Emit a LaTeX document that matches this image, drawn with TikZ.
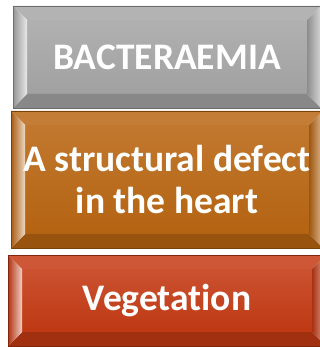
\documentclass[tikz,border=0pt]{standalone}
\usepackage{fontspec}
\setmainfont{Carlito}[Ligatures=NoCommon]
\usetikzlibrary{calc}

\definecolor{graybox}{HTML}{A6A6A6}
\definecolor{orangebox}{HTML}{B96612}
\definecolor{redbox}{HTML}{C43A14}

\tikzset{
  boxtext/.style={text=white,font=\bfseries\fontsize{37.5}{42}\selectfont,align=center,inner sep=0pt}
}

% bevelled box: name, north west corner, south east corner, colour
\newcommand{\bevelbox}[4]{%
  \coordinate (#1-a) at #2;
  \coordinate (#1-c) at #3;
  \coordinate (#1-b) at (#1-c |- #1-a);
  \coordinate (#1-d) at (#1-a |- #1-c);
  \coordinate (#1-ia) at ($(#1-a)+(14,14)$);
  \coordinate (#1-ib) at ($(#1-b)+(-14,14)$);
  \coordinate (#1-ic) at ($(#1-c)+(-14,-14)$);
  \coordinate (#1-id) at ($(#1-d)+(14,-14)$);
  \shade[top color=#4!88!white,bottom color=#4!97!black] (#1-ia) rectangle (#1-ic);
  \fill[#4!85!white] (#1-a) -- (#1-b) -- (#1-ib) -- (#1-ia) -- cycle;
  \fill[#4!82!black] (#1-d) -- (#1-c) -- (#1-ic) -- (#1-id) -- cycle;
  \shade[left color=#4!90!black,right color=#4!25!white] (#1-a) -- (#1-ia) -- (#1-id) -- (#1-d) -- cycle;
  \shade[left color=#4!85!black,right color=#4!45!white] (#1-ib) -- (#1-b) -- (#1-c) -- (#1-ic) -- cycle;
  \draw[#4!65!black,line width=0.7pt] (#1-a) rectangle (#1-c);
}

\begin{document}
\begin{tikzpicture}[x=1pt,y=-1pt]

    \useasboundingbox (0,0) rectangle (320,347);
    \clip (0,0) rectangle (320,347);
    \fill[white] (0,0) rectangle (320,347);

    \bevelbox{bact}{(13,6)}{(321,108)}{graybox}
    \node[boxtext] (bacteraemia) at ($(bact-a)!0.5!(bact-c)$) {BACTERAEMIA};

    \bevelbox{heart}{(11,111)}{(323,248)}{orangebox}
    \node[boxtext] (defect) at ($(heart-a)!0.5!(heart-c)$) {A structural defect\\in the heart};

    \bevelbox{veg}{(8,255)}{(326,346)}{redbox}
    \node[boxtext] (vegetation) at ($(veg-a)!0.5!(veg-c)$) {Vegetation};

\end{tikzpicture}
\end{document}
